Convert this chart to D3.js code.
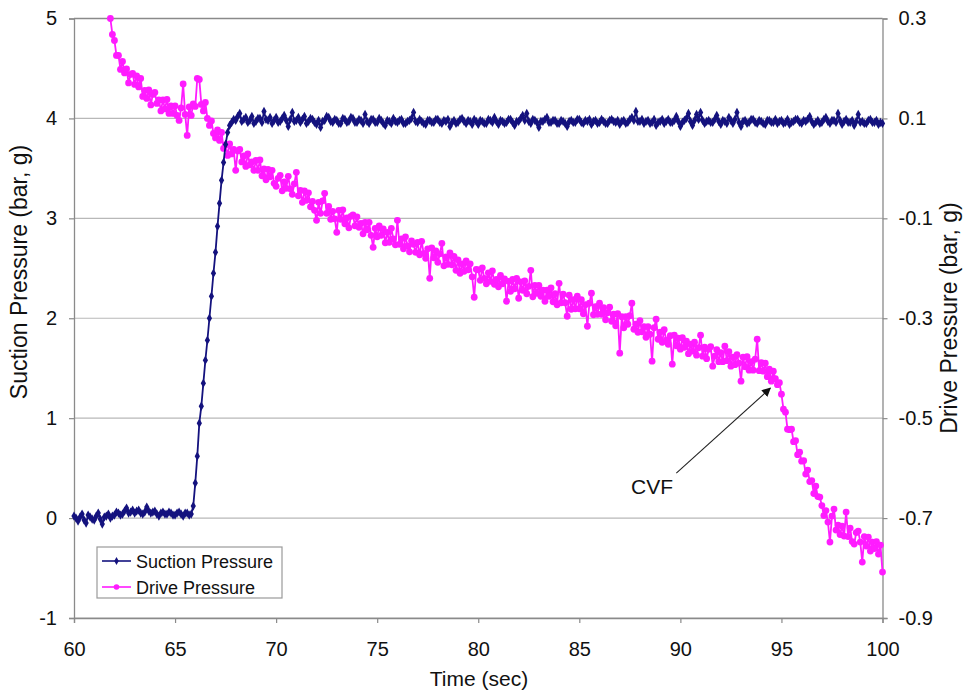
<!DOCTYPE html>
<html><head><meta charset="utf-8">
<script src="https://cdn.jsdelivr.net/npm/d3@7"></script>
<style>
body{margin:0;background:#fff}
svg{display:block;font-family:"Liberation Sans",Arial,sans-serif}
</style>
</head><body>
<svg id="chart" width="964" height="690"></svg>
<script>
// ---------- data ----------
const timeDomain = [60, 100];
const xTicks = [60, 65, 70, 75, 80, 85, 90, 95, 100];
const leftDomain = [-1, 5];
const leftTicks = [-1, 0, 1, 2, 3, 4, 5];
const rightDomain = [-0.9, 0.3];
const rightTicks = [0.3, 0.1, -0.1, -0.3, -0.5, -0.7, -0.9];
const seriesNames = ["Suction Pressure", "Drive Pressure"];
const xTitle = "Time (sec)";
const leftTitle = "Suction Pressure (bar, g)";
const rightTitle = "Drive Pressure (bar, g)";
const sampleStep = 0.1;

// Suction pressure (bar, g), samples every 0.1 s from 60.0 s (one row per second)
const suctionStart = 60.0;
const suctionValues = [
  0.02,0.00,-0.03,0.01,0.04,-0.02,-0.05,0.03,0.01,-0.01,
  -0.02,0.02,0.05,-0.01,-0.06,0.01,0.02,0.04,0.00,0.02,
  0.03,0.06,0.05,0.03,0.04,0.07,0.10,0.05,0.06,0.08,
  0.05,0.07,0.08,0.05,0.04,0.06,0.11,0.07,0.05,0.06,
  0.07,0.04,0.02,0.05,0.06,0.04,0.04,0.06,0.05,0.03,
  0.03,0.05,0.06,0.04,0.02,0.05,0.05,0.03,0.04,0.12,
  0.35,0.62,0.95,1.12,1.35,1.58,1.78,2.00,2.22,2.45,
  2.66,2.92,3.15,3.38,3.56,3.74,3.86,3.93,3.96,3.99,
  3.98,4.02,4.05,3.97,3.99,4.01,3.96,3.98,4.02,3.95,
  3.97,4.00,4.00,3.96,4.07,3.99,3.98,4.01,3.95,3.98,
  4.01,3.96,3.97,4.00,4.03,3.98,3.92,3.99,4.06,3.97,
  3.98,4.01,3.96,3.99,4.02,3.95,3.97,4.00,3.99,3.96,
  3.94,3.98,3.91,3.97,3.98,4.02,4.01,3.97,3.96,3.99,
  3.98,3.95,3.95,4.00,3.99,3.96,3.97,4.01,4.00,3.96,
  3.96,3.99,3.98,3.95,4.04,3.97,3.95,3.99,3.99,3.96,
  3.96,4.00,3.98,3.95,3.93,3.98,3.97,3.95,4.00,3.97,
  3.96,3.98,3.99,3.95,3.95,3.97,3.98,4.00,4.06,3.97,
  3.96,3.99,3.97,3.95,3.94,3.98,3.98,3.96,3.96,3.99,
  3.99,3.96,3.95,3.98,3.97,3.99,3.92,3.96,3.98,3.95,
  3.96,3.99,4.00,3.97,3.95,3.98,3.97,3.94,3.99,3.97,
  3.94,3.98,3.97,3.95,3.95,3.99,3.98,3.96,4.01,3.97,
  3.94,3.98,3.97,3.95,3.96,3.99,3.99,3.96,3.93,3.97,
  3.97,4.00,4.03,3.98,4.05,3.97,3.95,3.99,3.98,3.96,
  3.91,3.97,3.97,3.99,4.01,3.96,3.96,3.98,3.98,3.95,
  3.95,3.98,3.97,3.95,3.92,3.97,3.98,3.96,3.96,3.99,
  3.99,3.96,3.95,3.98,3.97,3.99,3.94,3.97,3.98,3.95,
  3.96,3.99,3.97,3.95,3.95,3.98,3.99,3.97,3.96,3.98,
  3.94,3.97,3.98,3.95,3.96,3.99,4.01,3.98,4.07,3.97,
  3.97,3.99,3.95,3.97,3.98,3.95,3.96,3.99,3.93,3.96,
  3.97,3.99,3.95,3.97,3.99,3.96,3.96,3.98,4.02,3.97,
  3.92,3.96,3.98,4.00,4.05,3.97,3.93,3.98,4.04,3.99,
  4.06,3.98,3.95,3.97,3.98,3.96,3.96,3.99,4.03,3.97,
  3.94,3.98,3.97,3.95,4.01,3.98,3.95,3.99,4.06,3.96,
  3.92,3.97,3.98,3.95,3.96,3.99,3.99,3.96,3.95,3.98,
  3.97,3.95,3.94,3.98,3.98,3.96,3.96,3.99,3.95,3.97,
  3.98,3.95,3.96,3.99,3.94,3.96,3.97,3.99,3.99,3.96,
  3.95,3.98,3.97,3.99,4.02,3.97,3.94,3.96,3.98,3.95,
  3.96,3.99,4.01,3.97,3.95,3.98,3.98,3.96,4.05,3.98,
  3.94,3.97,3.99,3.96,3.96,3.98,3.93,3.97,4.04,3.96,
  3.97,3.95,3.95,3.98,3.99,3.96,3.96,3.98,3.94,3.96,
  3.95
];

// Drive pressure (bar, g), samples every 0.1 s from 61.8 s (rows from 62.0 s, one per second)
const driveStart = 61.8;
const driveValues = [
  0.300,0.268,
  0.256,0.226,0.226,0.198,0.214,0.191,0.199,0.171,0.188,0.190,
  0.168,0.185,0.163,0.180,0.144,0.156,0.140,0.157,0.127,0.148,
  0.152,0.130,0.137,0.115,0.137,0.119,0.138,0.110,0.125,0.110,
  0.125,0.106,0.096,0.121,0.169,0.108,0.066,0.123,0.106,0.129,
  0.124,0.180,0.178,0.128,0.115,0.132,0.100,0.086,0.095,0.070,
  0.061,0.077,0.056,0.072,0.040,0.047,0.026,0.049,0.029,0.038,
  -0.004,0.035,0.038,0.013,0.025,0.004,0.029,0.007,0.013,-0.004,
  0.016,-0.004,0.017,-0.015,-0.001,-0.023,-0.002,-0.017,-0.004,-0.030,
  -0.036,-0.020,-0.014,-0.045,-0.027,-0.040,-0.016,-0.041,-0.052,-0.031,
  -0.008,-0.055,-0.044,-0.068,-0.045,-0.064,-0.049,-0.077,-0.066,-0.084,
  -0.104,-0.068,-0.090,-0.065,-0.050,-0.090,-0.076,-0.102,-0.086,-0.101,
  -0.128,-0.084,-0.102,-0.083,-0.111,-0.099,-0.119,-0.096,-0.093,-0.115,
  -0.097,-0.118,-0.110,-0.131,-0.108,-0.123,-0.108,-0.134,-0.158,-0.120,
  -0.137,-0.115,-0.134,-0.121,-0.149,-0.128,-0.148,-0.120,-0.141,-0.153,
  -0.104,-0.152,-0.141,-0.161,-0.137,-0.155,-0.167,-0.145,-0.152,-0.168,
  -0.148,-0.173,-0.146,-0.170,-0.180,-0.161,-0.220,-0.159,-0.179,-0.165,
  -0.188,-0.171,-0.150,-0.195,-0.177,-0.192,-0.169,-0.193,-0.176,-0.204,
  -0.183,-0.210,-0.191,-0.206,-0.185,-0.203,-0.191,-0.217,-0.258,-0.202,
  -0.203,-0.224,-0.199,-0.220,-0.231,-0.209,-0.226,-0.205,-0.232,-0.222,
  -0.237,-0.214,-0.231,-0.221,-0.266,-0.226,-0.246,-0.222,-0.241,-0.220,
  -0.260,-0.227,-0.244,-0.225,-0.251,-0.236,-0.204,-0.257,-0.234,-0.250,
  -0.234,-0.256,-0.244,-0.266,-0.244,-0.256,-0.239,-0.267,-0.251,-0.273,
  -0.230,-0.269,-0.252,-0.269,-0.296,-0.254,-0.282,-0.263,-0.281,-0.256,
  -0.281,-0.263,-0.291,-0.273,-0.316,-0.270,-0.250,-0.293,-0.277,-0.292,
  -0.270,-0.292,-0.279,-0.303,-0.289,-0.278,-0.306,-0.292,-0.315,-0.291,
  -0.370,-0.297,-0.319,-0.297,-0.312,-0.295,-0.270,-0.322,-0.312,-0.328,
  -0.305,-0.327,-0.317,-0.338,-0.317,-0.332,-0.386,-0.319,-0.302,-0.342,
  -0.328,-0.348,-0.323,-0.344,-0.352,-0.335,-0.392,-0.334,-0.355,-0.340,
  -0.362,-0.339,-0.358,-0.346,-0.371,-0.352,-0.366,-0.348,-0.374,-0.359,
  -0.334,-0.376,-0.358,-0.381,-0.362,-0.357,-0.396,-0.376,-0.363,-0.387,
  -0.369,-0.387,-0.356,-0.385,-0.367,-0.396,-0.378,-0.393,-0.373,-0.390,
  -0.426,-0.378,-0.397,-0.377,-0.404,-0.387,-0.404,-0.382,-0.342,-0.405,
  -0.389,-0.406,-0.390,-0.417,-0.402,-0.426,-0.406,-0.421,-0.433,-0.429,
  -0.452,-0.482,-0.488,-0.522,-0.523,-0.522,-0.547,-0.545,-0.573,-0.568,
  -0.586,-0.585,-0.612,-0.604,-0.627,-0.625,-0.651,-0.636,-0.657,-0.658,
  -0.675,-0.695,-0.685,-0.708,-0.748,-0.696,-0.682,-0.724,-0.714,-0.733,
  -0.716,-0.736,-0.688,-0.737,-0.720,-0.747,-0.752,-0.729,-0.726,-0.748,
  -0.788,-0.737,-0.756,-0.738,-0.766,-0.748,-0.761,-0.747,-0.772,-0.754,
  -0.808
];

// Annotation (time s, drive pressure bar g)
const annotationLabel = "CVF";
const annotationTail = [89.8, -0.61];
const annotationTip = [94.45, -0.44];
const annotationText = [88.6, -0.652];

// ---------- drawing ----------
const colors = {suction: "#14127e", drive: "#ff1cff", grid: "#b8b8b8", axis: "#8a8a8a", text: "#111"};
const svg = d3.select("#chart");
const W = 964, H = 690;
const plot = {left: 74, right: 882.5, top: 18.5, bottom: 618};

const x = d3.scaleLinear().domain(timeDomain).range([plot.left, plot.right]);
const yL = d3.scaleLinear().domain(leftDomain).range([plot.bottom, plot.top]);
const yR = d3.scaleLinear().domain(rightDomain).range([plot.bottom, plot.top]);

const suction = suctionValues.map((v, i) => ({t: +(suctionStart + i * sampleStep).toFixed(2), v}));
const drive = driveValues.map((v, i) => ({t: +(driveStart + i * sampleStep).toFixed(2), v}));

svg.append("rect").attr("width", W).attr("height", H).attr("fill", "#fff");

// gridlines
svg.append("g").selectAll("line").data(leftTicks).join("line")
  .attr("x1", plot.left).attr("x2", plot.right)
  .attr("y1", d => yL(d)).attr("y2", d => yL(d))
  .attr("stroke", colors.grid).attr("stroke-width", 1.2);

// axes
const fmtR = d => (d < 0 ? "-" : "") + Math.abs(d).toFixed(1);
const fmtL = d => (d < 0 ? "-" : "") + Math.abs(d);

const gx = svg.append("g").attr("transform", `translate(0,${plot.bottom})`)
  .call(d3.axisBottom(x).tickValues(xTicks).tickSize(5).tickPadding(19).tickFormat(d => d));
const gl = svg.append("g").attr("transform", `translate(${plot.left},0)`)
  .call(d3.axisLeft(yL).tickValues(leftTicks).tickSize(5).tickPadding(12).tickFormat(fmtL));
const gr = svg.append("g").attr("transform", `translate(${plot.right},0)`)
  .call(d3.axisRight(yR).tickValues(rightTicks).tickSize(5).tickPadding(11).tickFormat(fmtR));
[gx, gl, gr].forEach(g => {
  g.select(".domain").attr("stroke", colors.axis).attr("stroke-width", 1.3);
  g.selectAll(".tick line").attr("stroke", colors.axis).attr("stroke-width", 1.2);
  g.selectAll("text").attr("font-size", 20).attr("fill", colors.text)
    .attr("font-family", '"Liberation Sans",Arial,sans-serif');
});
// top border
svg.append("line").attr("x1", plot.left).attr("x2", plot.right)
  .attr("y1", plot.top).attr("y2", plot.top).attr("stroke", colors.axis).attr("stroke-width", 1.3);

// series
const lineDrive = d3.line().x(d => x(d.t)).y(d => yR(d.v));
const lineSuction = d3.line().x(d => x(d.t)).y(d => yL(d.v));

const gD = svg.append("g");
gD.append("path").datum(drive).attr("d", lineDrive)
  .attr("fill", "none").attr("stroke", colors.drive).attr("stroke-width", 1.8);
gD.selectAll("circle").data(drive).join("circle")
  .attr("cx", d => x(d.t)).attr("cy", d => yR(d.v)).attr("r", 3.4)
  .attr("fill", colors.drive);

const diamond = d3.symbol().type(d3.symbolDiamond).size(24);
const gS = svg.append("g");
gS.append("path").datum(suction).attr("d", lineSuction)
  .attr("fill", "none").attr("stroke", colors.suction).attr("stroke-width", 1.8);
gS.selectAll("path.m").data(suction).join("path").attr("class", "m")
  .attr("d", diamond)
  .attr("transform", d => `translate(${x(d.t)},${yL(d.v)})`)
  .attr("fill", colors.suction);

// annotation arrow
svg.append("defs").append("marker").attr("id", "arr")
  .attr("viewBox", "0 0 10 10").attr("refX", 9).attr("refY", 5)
  .attr("markerWidth", 9).attr("markerHeight", 9).attr("markerUnits", "userSpaceOnUse")
  .attr("orient", "auto")
  .append("path").attr("d", "M0,0 L10,5 L0,10 z").attr("fill", "#111");
svg.append("line")
  .attr("x1", x(annotationTail[0])).attr("y1", yR(annotationTail[1]))
  .attr("x2", x(annotationTip[0])).attr("y2", yR(annotationTip[1]))
  .attr("stroke", "#222").attr("stroke-width", 1.1).attr("marker-end", "url(#arr)");
svg.append("text").attr("x", x(annotationText[0])).attr("y", yR(annotationText[1]))
  .attr("text-anchor", "middle").attr("font-size", 21).attr("fill", colors.text)
  .text(annotationLabel);

// legend
const lg = svg.append("g").attr("transform", "translate(97,547)");
lg.append("rect").attr("width", 185).attr("height", 51)
  .attr("fill", "#fff").attr("stroke", "#9a9a9a").attr("stroke-width", 1.2);
const legendRows = [
  {name: seriesNames[0], color: colors.suction, kind: "diamond"},
  {name: seriesNames[1], color: colors.drive, kind: "circle"}
];
legendRows.forEach((r, i) => {
  const cy = 14 + i * 26;
  lg.append("line").attr("x1", 5).attr("x2", 34).attr("y1", cy).attr("y2", cy)
    .attr("stroke", r.color).attr("stroke-width", 1.6);
  if (r.kind === "diamond") {
    lg.append("path").attr("d", d3.symbol().type(d3.symbolDiamond).size(18))
      .attr("transform", `translate(19.5,${cy})`).attr("fill", r.color);
  } else {
    lg.append("circle").attr("cx", 19.5).attr("cy", cy).attr("r", 2.8).attr("fill", r.color);
  }
  lg.append("text").attr("x", 39).attr("y", cy + 6.5).attr("font-size", 18)
    .attr("fill", colors.text).text(r.name);
});

// axis titles
svg.append("text").attr("x", 479).attr("y", 686)
  .attr("text-anchor", "middle").attr("font-size", 21).attr("fill", colors.text).text(xTitle);
svg.append("text").attr("transform", "translate(27,272) rotate(-90)")
  .attr("text-anchor", "middle").attr("font-size", 23).attr("fill", colors.text).text(leftTitle);
svg.append("text").attr("transform", "translate(957,318) rotate(-90)")
  .attr("text-anchor", "middle").attr("font-size", 23).attr("fill", colors.text).text(rightTitle);
</script>
</body></html>
